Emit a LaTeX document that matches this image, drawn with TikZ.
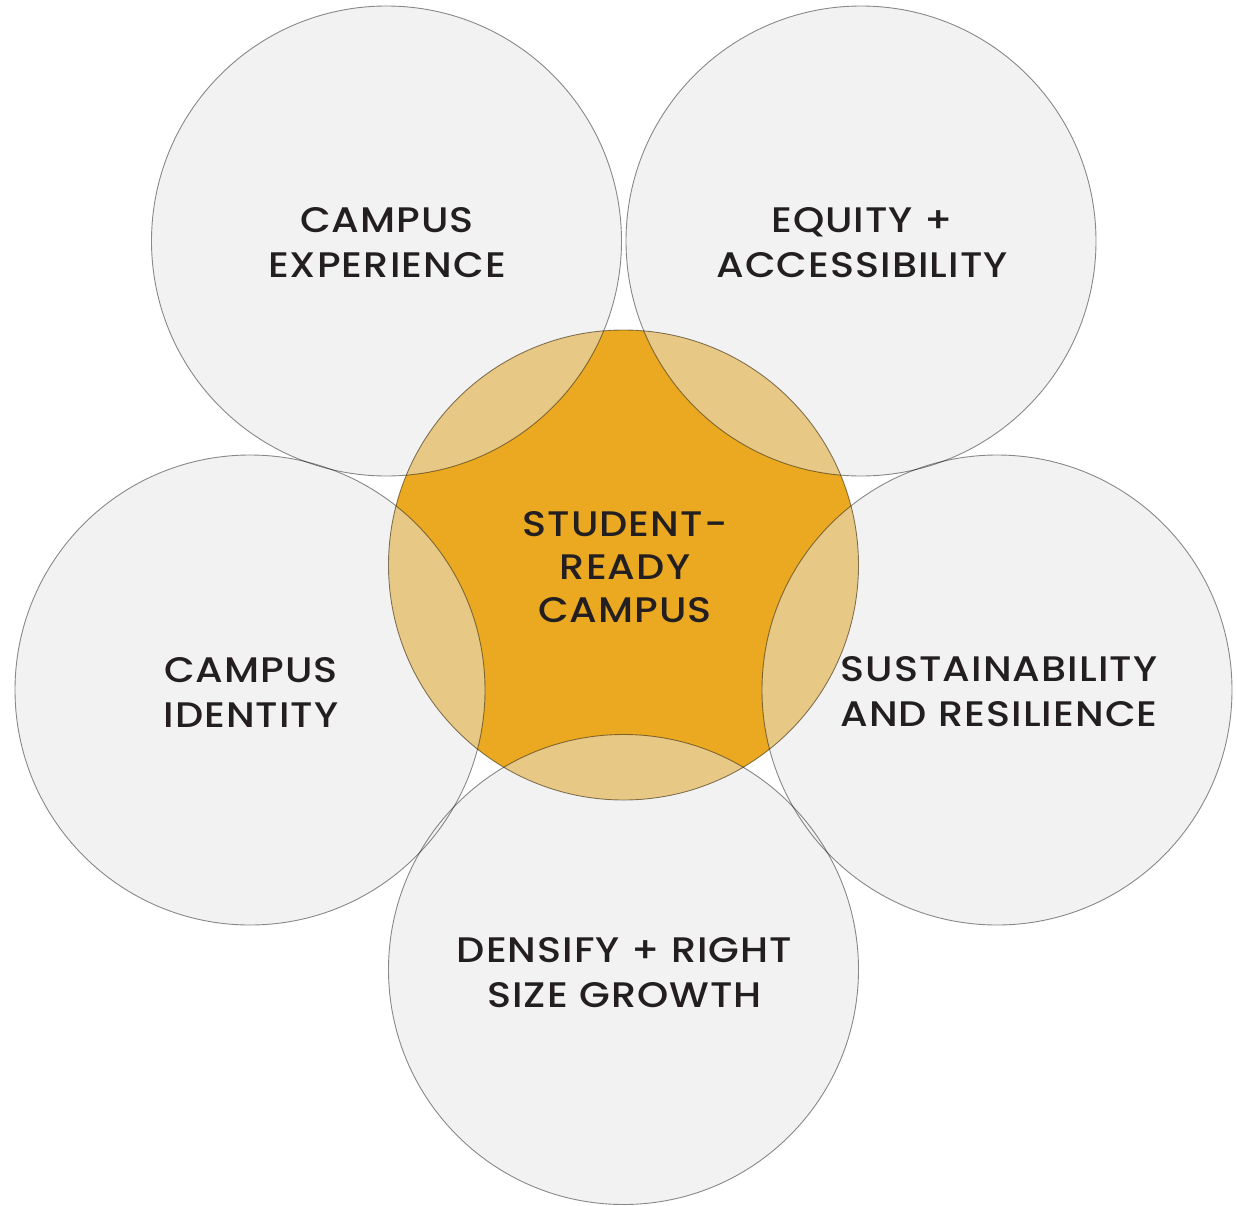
\documentclass[tikz,border=0pt]{standalone}
\usepackage{fontspec}
\IfFontExistsTF{Poppins Medium}{\setmainfont{Poppins Medium}[LetterSpace=3,FakeStretch=1.12]}{\setmainfont{Poppins}[LetterSpace=3,FakeStretch=1.12]}
\definecolor{ringfill}{HTML}{F2F2F2}
\definecolor{goldfill}{HTML}{EAA920}
\definecolor{tanfill}{HTML}{E8C885}
\definecolor{inktext}{HTML}{231F20}
\begin{document}
\begin{tikzpicture}[x=1pt,y=-1pt,
  ringline/.style={draw=black,draw opacity=0.45,line width=0.9pt},
  label/.style={align=center,inner sep=0pt,text=inktext,font=\fontsize{35.5}{45}\selectfont},
  starlabel/.style={label,font=\fontsize{35.5}{43}\selectfont}]
\useasboundingbox (0,0) rectangle (1237,1205);
\def\R{235}
\coordinate (mid) at (623.5,565);
\coordinate (tl) at (386.5,241);
\coordinate (tr) at (861,241);
\coordinate (lf) at (250,690);
\coordinate (rt) at (997,690);
\coordinate (bt) at (623.5,969.5);
% outer circle fills
\foreach \c in {tl,tr,lf,rt,bt}{\fill[ringfill] (\c) circle (\R);}
% centre circle
\fill[goldfill] (mid) circle (\R);
\begin{scope}
  \clip (mid) circle (\R);
  \foreach \c in {tl,tr,lf,rt,bt}{\fill[tanfill] (\c) circle (\R);}
\end{scope}
% outlines
\foreach \c in {tl,tr,lf,rt,bt}{\draw[ringline] (\c) circle (\R);}
\draw[ringline] (mid) circle (\R);
% labels
\node[label] (ltl) at (387,243) {CAMPUS\\EXPERIENCE};
\node[label] (ltr) at (862,243) {EQUITY +\\ACCESSIBILITY};
\node[label] (llf) at (251,692) {CAMPUS\\IDENTITY};
\node[label] (lrt) at (999,691.5) {SUSTAINABILITY\\AND RESILIENCE};
\node[label] (lbt) at (624.5,973) {DENSIFY + RIGHT\\SIZE GROWTH};
\node[starlabel] (lmid) at (625,567) {STUDENT-\\READY\\CAMPUS};
\end{tikzpicture}
\end{document}
